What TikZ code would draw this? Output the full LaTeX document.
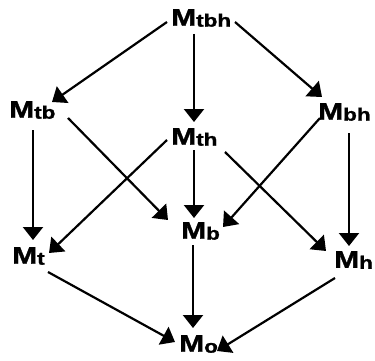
\documentclass[tikz,border=0pt]{standalone}
\usepackage{fontspec}
\usepackage{graphicx}
\setmainfont{Liberation Sans}
\newfontfamily\heavyfont{Liberation Sans Bold}[FakeBold=1.2]
\usetikzlibrary{arrows.meta}
\newcommand\mlab[1]{\heavyfont\scalebox{1.25}[1]{\fontsize{24}{24}\selectfont M}\raisebox{-1pt}{\scalebox{1.25}[1]{\fontsize{18}{18}\selectfont #1}}}
\begin{document}
\begin{tikzpicture}[x=1pt,y=-1pt,
  lab/.style={inner sep=0pt, anchor=west},
  arr/.style={line width=2.2pt, -{Triangle[length=13pt,width=20pt]}}]
\useasboundingbox (0,0) rectangle (375,361);
\node[lab] (Mtbh) at (171,18) {\mlab{tbh}};
\node[lab] (Mtb) at (9,110) {\mlab{tb}};
\node[lab] (Mth) at (171,137) {\mlab{th}};
\node[lab] (Mbh) at (318,112) {\mlab{bh}};
\node[lab] (Mt) at (12,256) {\mlab{t}};
\node[lab] (Mb) at (181,231) {\mlab{b}};
\node[lab] (Mh) at (334,260) {\mlab{h}};
\node[lab] (Mo) at (179,344) {\mlab{o}};
% connectors
\draw[arr] ([shift={(-4,4)}]Mtbh.west) -- ([shift={(43,-8)}]Mtb.west);
\draw[arr] ([shift={(23,16)}]Mtbh.west) -- ([shift={(23,-15)}]Mth.west);
\draw[arr] ([shift={(64,4)}]Mtbh.west) -- ([shift={(4,-15)}]Mbh.west);
\draw[arr] ([shift={(24,20)}]Mtb.west) -- ([shift={(21,-16)}]Mt.west);
\draw[arr] ([shift={(59,8)}]Mtb.west) -- ([shift={(-13,-11)}]Mb.west);
\draw[arr] ([shift={(-4,3)}]Mth.west) -- ([shift={(37,-3)}]Mt.west);
\draw[arr] ([shift={(23,13)}]Mth.west) -- ([shift={(13,-13)}]Mb.west);
\draw[arr] ([shift={(54,15)}]Mth.west) -- ([shift={(-8,-9)}]Mh.west);
\draw[arr] ([shift={(2,6)}]Mbh.west) -- ([shift={(42,-4)}]Mb.west);
\draw[arr] ([shift={(31,21)}]Mbh.west) -- ([shift={(15,-14)}]Mh.west);
\draw[arr] ([shift={(36,16)}]Mt.west) -- ([shift={(-4,-2)}]Mo.west);
\draw[arr] ([shift={(12,14)}]Mb.west) -- ([shift={(14,-16)}]Mo.west);
\draw[arr] ([shift={(1,18)}]Mh.west) -- ([shift={(38,7)}]Mo.west);
\end{tikzpicture}
\end{document}
